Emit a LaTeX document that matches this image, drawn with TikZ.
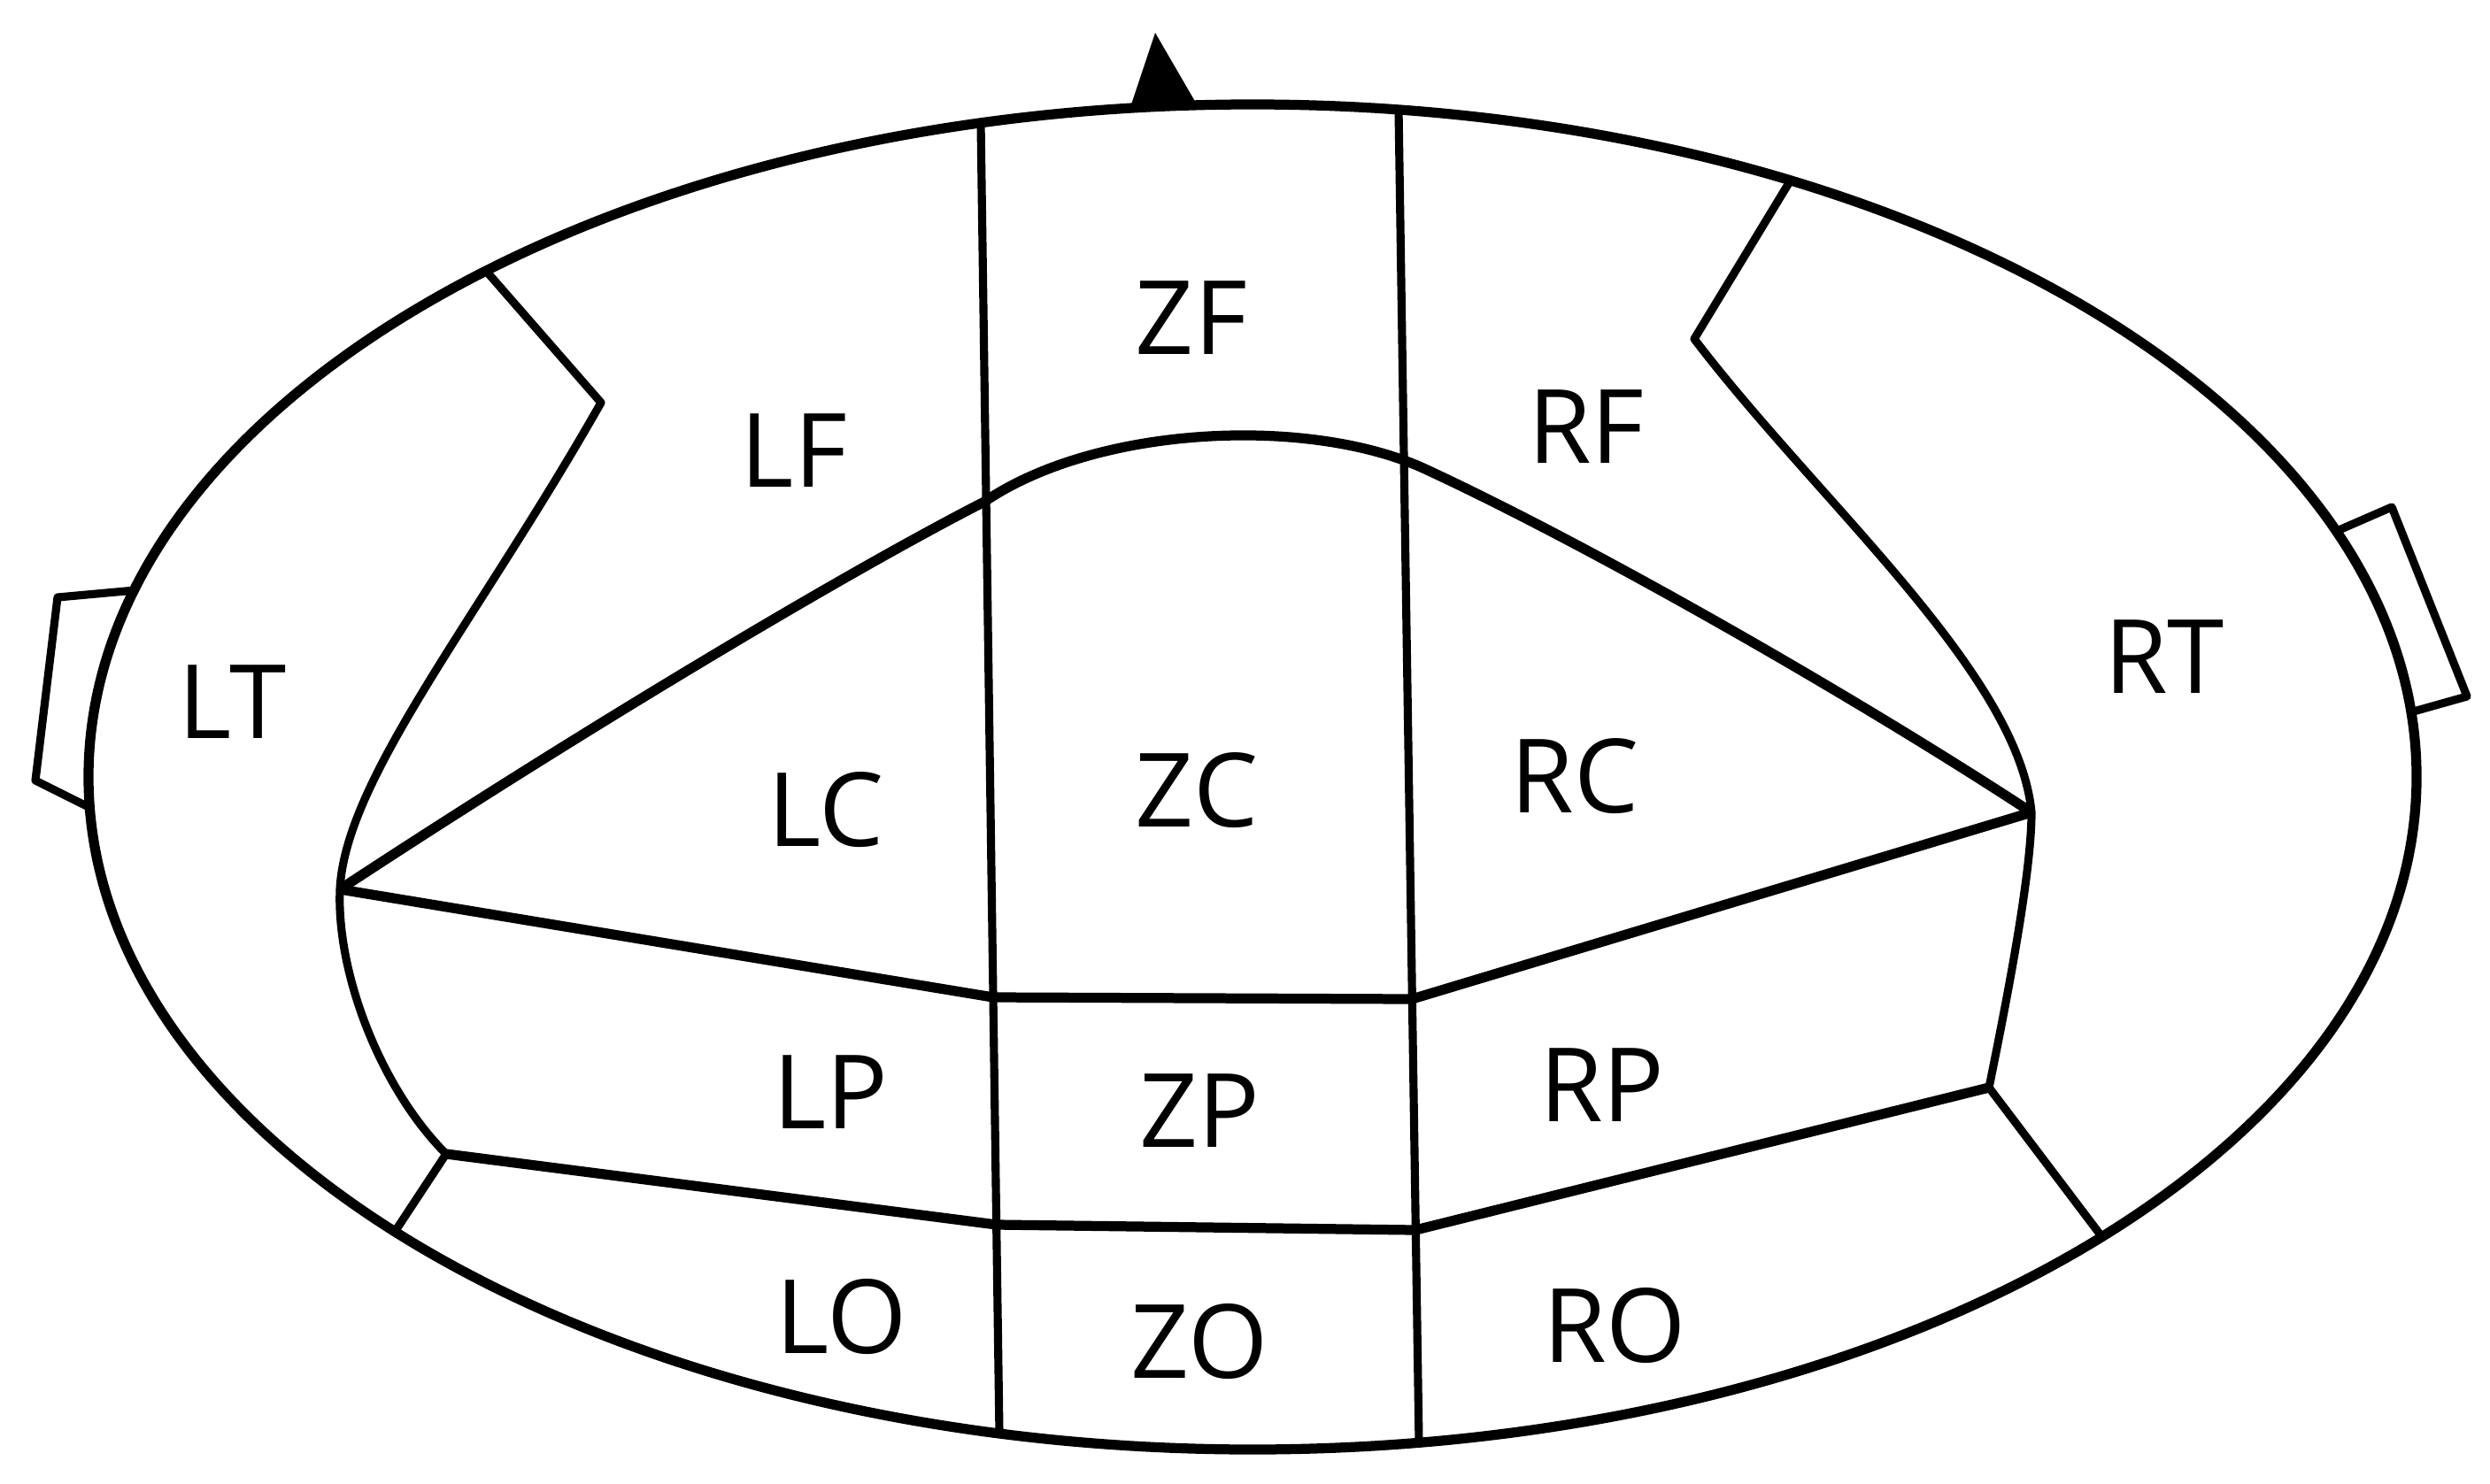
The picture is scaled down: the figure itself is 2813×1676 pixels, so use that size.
\documentclass[tikz,border=0pt]{standalone}
\usepackage{fontspec}
\setmainfont{Open Sans}
\usepackage{tikz}

\begin{document}
\begin{tikzpicture}[x=0.1mm,y=-0.1mm,line width=3.2pt,line join=round,
    thinline/.style={line width=2.6pt},
    lbl/.style={inner sep=0pt,font=\fontsize{33}{40}\selectfont}]
                \useasboundingbox (0,0) rectangle (2813,1676);

                % head, nose and ears
                \draw (1415,878) ellipse [x radius=1315, y radius=760];
                \fill (1276,124) -- (1305,37) -- (1352,118) -- cycle;
                \draw[thinline] (153,667) -- (65,675) -- (40,882) -- (102,913);
                \draw[thinline] (2640,600) -- (2702,573) -- (2787,787) -- (2723,805);

                % corners of the regions
                \coordinate (vl) at (384,1005);
                \coordinate (vr) at (2295,918);
                \coordinate (kl) at (679,455);
                \coordinate (kr) at (1914,383);
                \coordinate (pl) at (504,1304);
                \coordinate (pr) at (2247,1229);

                % temporal borders
                \draw[thinline] (549,306) -- (kl) .. controls (540,700) and (390,880) .. (vl)
                      .. controls (380,1100) and (430,1230) .. (pl) -- (446,1392);
                \draw[thinline] (2022,205) -- (kr) .. controls (2054,567) and (2280,760) .. (vr)
                      .. controls (2295,990) and (2265,1140) .. (pr) -- (2374,1397);

                % midline columns
                \draw[thinline] (1108,139) -- (1129,1620);
                \draw[thinline] (1580,124) -- (1603,1630);

                % frontal / central border
                \draw (vl) .. controls (650,830) and (950,650) .. (1112,567)
                      .. controls (1240,480) and (1480,470) .. (1610,530)
                      .. controls (1800,618) and (2100,790) .. (vr);

                % central / parietal border
                \draw (vl) -- (1122,1127) -- (1595,1129) -- (vr);

                % parietal / occipital border
                \draw (pl) -- (1126,1384) -- (1599,1390) -- (pr);

                % labels
                \node[lbl] (zf) at (1346,359) {ZF};
                \node[lbl] (lf) at (897,509) {LF};
                \node[lbl] (rf) at (1792,482) {RF};
                \node[lbl] (lt) at (263,793) {LT};
                \node[lbl] (rt) at (2445,742) {RT};
                \node[lbl] (lc) at (933,915) {LC};
                \node[lbl] (zc) at (1352,893) {ZC};
                \node[lbl] (rc) at (1779,877) {RC};
                \node[lbl] (lp) at (938,1234) {LP};
                \node[lbl] (zp) at (1355,1255) {ZP};
                \node[lbl] (rp) at (1810,1226) {RP};
                \node[lbl] (lo) at (951,1488) {LO};
                \node[lbl] (zo) at (1355,1516) {ZO};
                \node[lbl] (ro) at (1824,1498) {RO};

            \end{tikzpicture}
\end{document}
